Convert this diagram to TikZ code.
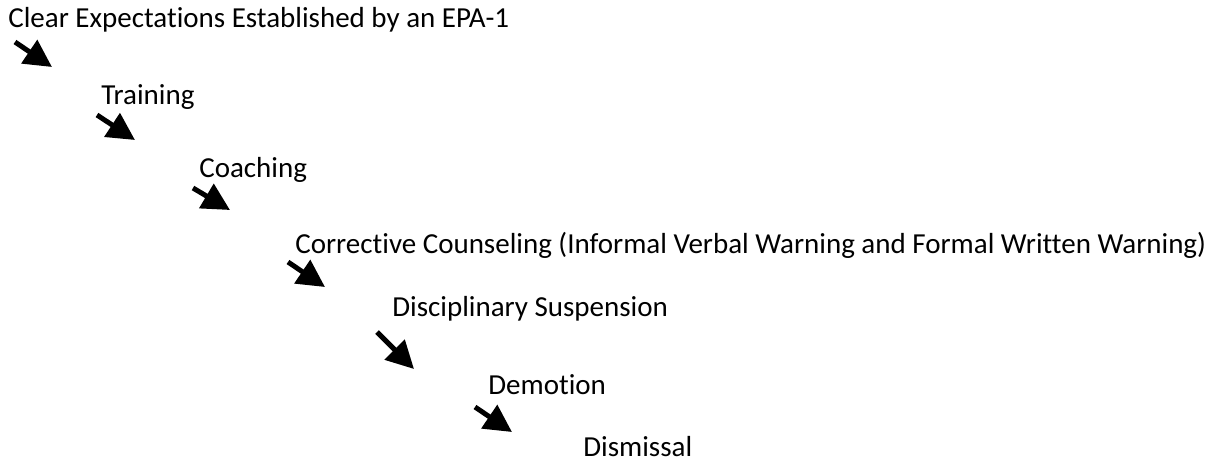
\documentclass[tikz,border=0pt]{standalone}
\usepackage{fontspec}
\setmainfont{Carlito}[Ligatures={NoCommon}]
\usetikzlibrary{arrows.meta}

\tikzset{
  steptext/.style={anchor=west, inner sep=0pt, font=\fontsize{16.5}{18}\selectfont},
  steparrow/.style={line width=0.1cm, -{Triangle[length=0.55cm,width=0.55cm]}}
}

\begin{document}
\begin{tikzpicture}
        \useasboundingbox (0,0) rectangle (24.44,-9.26);
        % the steps, one below the other
        \node[steptext] (clear) at (0.16,-0.40) {Clear Expectations Established by an EPA-1};
        \node[steptext] (training) at (2.02,-1.94) {Training};
        \node[steptext] (coaching) at (3.98,-3.40) {Coaching};
        \node[steptext] (corrective) at (5.90,-4.90) {Corrective Counseling (Informal Verbal Warning and Formal Written Warning)};
        \node[steptext] (suspension) at (7.84,-6.18) {Disciplinary Suspension};
        \node[steptext] (demotion) at (9.76,-7.70) {Demotion};
        \node[steptext] (dismissal) at (11.66,-8.94) {Dismissal};
        % arrows between the steps
        \foreach \i/\tx/\ty/\hx/\hy in {1/0.30/-0.84/1.04/-1.34, 2/1.94/-2.30/2.70/-2.80, 3/3.86/-3.76/4.60/-4.20, 4/5.76/-5.24/6.50/-5.74, 5/7.54/-6.64/8.28/-7.38, 6/9.50/-8.14/10.24/-8.64} {
            \coordinate (tail\i) at (\tx,\ty);
            \coordinate (tip\i) at (\hx,\hy);
            \draw[steparrow] (tail\i) -- (tip\i);
        }
    \end{tikzpicture}
\end{document}
